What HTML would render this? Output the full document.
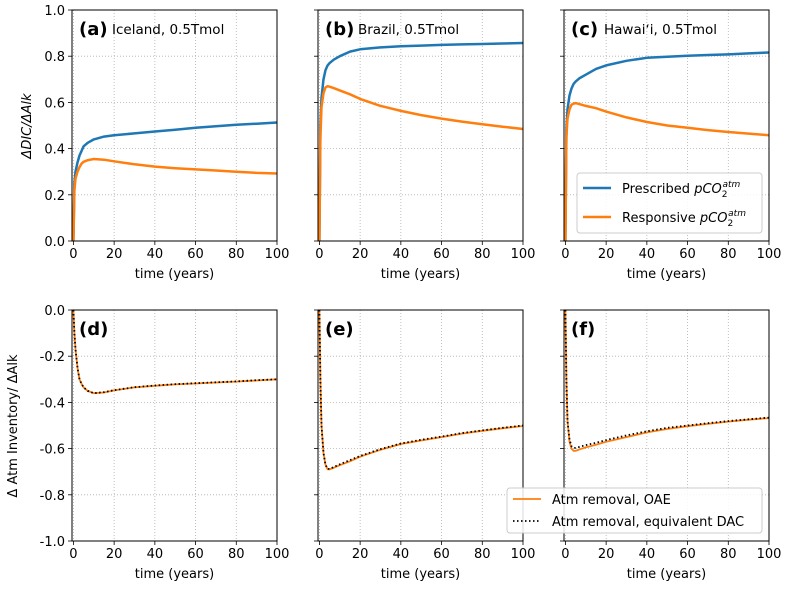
<!DOCTYPE html>
<html><head><meta charset="utf-8"><style>
html,body{margin:0;padding:0;background:#fff}
svg{display:block;font-family:"DejaVu Sans","Liberation Sans",sans-serif}
</style></head><body>
<svg id="fig" width="789" height="591" viewBox="0 0 789 591"></svg>
<script>
const times=[0,0.5,1,2,3,4,5,7,10,15,20,30,40,50,60,70,80,90,100];
const prescribedA=[0,0.25,0.3,0.34,0.37,0.39,0.41,0.425,0.44,0.452,0.458,0.466,0.474,0.482,0.49,0.497,0.503,0.508,0.513];
const responsiveA=[0,0.22,0.27,0.30,0.32,0.335,0.343,0.35,0.355,0.352,0.345,0.332,0.322,0.315,0.31,0.305,0.300,0.295,0.292];
const prescribedB=[0,0.5,0.62,0.7,0.74,0.76,0.77,0.785,0.8,0.82,0.83,0.838,0.843,0.846,0.849,0.851,0.853,0.855,0.857];
const responsiveB=[0,0.45,0.58,0.64,0.665,0.67,0.668,0.662,0.652,0.635,0.615,0.585,0.563,0.545,0.53,0.517,0.505,0.495,0.485];
const prescribedC=[0,0.48,0.57,0.63,0.66,0.68,0.69,0.705,0.72,0.745,0.76,0.78,0.793,0.798,0.802,0.805,0.808,0.812,0.816];
const responsiveC=[0,0.45,0.53,0.57,0.59,0.595,0.597,0.592,0.585,0.575,0.56,0.535,0.515,0.5,0.49,0.48,0.472,0.465,0.458];
const oaeD=[0,-0.1,-0.17,-0.25,-0.3,-0.32,-0.335,-0.35,-0.36,-0.357,-0.348,-0.335,-0.328,-0.322,-0.318,-0.314,-0.31,-0.305,-0.30];
const dacD=[0,-0.1,-0.17,-0.25,-0.3,-0.32,-0.335,-0.35,-0.36,-0.356,-0.347,-0.334,-0.327,-0.321,-0.317,-0.313,-0.309,-0.304,-0.30];
const oaeE=[0,-0.3,-0.5,-0.62,-0.67,-0.69,-0.69,-0.683,-0.672,-0.655,-0.635,-0.605,-0.58,-0.565,-0.55,-0.535,-0.523,-0.512,-0.502];
const dacE=[0,-0.3,-0.5,-0.62,-0.67,-0.688,-0.688,-0.68,-0.668,-0.65,-0.632,-0.602,-0.578,-0.562,-0.548,-0.533,-0.521,-0.51,-0.5];
const oaeF=[0,-0.3,-0.48,-0.57,-0.6,-0.61,-0.61,-0.603,-0.595,-0.583,-0.57,-0.55,-0.53,-0.515,-0.503,-0.493,-0.483,-0.475,-0.468];
const dacF=[0,-0.3,-0.48,-0.56,-0.59,-0.597,-0.597,-0.592,-0.585,-0.575,-0.563,-0.543,-0.525,-0.51,-0.5,-0.49,-0.481,-0.473,-0.466];
const xTicks=[0,20,40,60,80,100];
const yTicksTop=[0,0.2,0.4,0.6,0.8,1.0];
const yTicksBot=[-1.0,-0.8,-0.6,-0.4,-0.2,0.0];

const NS="http://www.w3.org/2000/svg";
const svg=document.getElementById('fig');
function mk(tag,attrs,parent){const e=document.createElementNS(NS,tag);for(const k in attrs)e.setAttribute(k,attrs[k]);(parent||svg).appendChild(e);return e;}
const cols=[72,318,564],W=205,rows=[{top:10,bot:241,lo:0,hi:1,ticks:yTicksTop},{top:310,bot:541,lo:-1,hi:0,ticks:yTicksBot}];
const panels=[
 {r:0,c:0,lab:"(a)",sub:"Iceland, 0.5Tmol",s:[prescribedA,responsiveA]},
 {r:0,c:1,lab:"(b)",sub:"Brazil, 0.5Tmol",s:[prescribedB,responsiveB]},
 {r:0,c:2,lab:"(c)",sub:"Hawaiʻi, 0.5Tmol",s:[prescribedC,responsiveC]},
 {r:1,c:0,lab:"(d)",sub:"",s:[oaeD,dacD]},
 {r:1,c:1,lab:"(e)",sub:"",s:[oaeE,dacE]},
 {r:1,c:2,lab:"(f)",sub:"",s:[oaeF,dacF]}];
panels.forEach(p=>{
 const R=rows[p.r],L=cols[p.c];
 const g=mk('g',{});
 
 
 const xs=v=>L+(v+0.7)/100.7*W, ys=v=>R.bot-(v-R.lo)/(R.hi-R.lo)*(R.bot-R.top);
 xTicks.forEach(t=>{const x=xs(t);
  const gl=mk('line',{x1:x,x2:x,y1:R.top,y2:R.bot,stroke:'#b0b0b0','stroke-width':0.8,'stroke-dasharray':'1,2'},g);
  
  mk('line',{x1:x,x2:x,y1:R.bot,y2:R.bot+4,stroke:'#000','stroke-width':0.8},g);
  const tx=mk('text',{x:x,y:R.bot+17,'text-anchor':'middle','font-size':13},g);tx.textContent=t;
  });
 R.ticks.forEach(t=>{const y=ys(t);
  const gl=mk('line',{x1:L,x2:L+W,y1:y,y2:y,stroke:'#b0b0b0','stroke-width':0.8,'stroke-dasharray':'1,2'},g);
  
  mk('line',{x1:L-4,x2:L,y1:y,y2:y,stroke:'#000','stroke-width':0.8},g);
  if(p.c===0){const tx=mk('text',{x:L-7,y:y+5,'text-anchor':'end','font-size':13},g);tx.textContent=t.toFixed(1);
   }});
 const xl=mk('text',{x:L+W/2,y:R.bot+37,'text-anchor':'middle','font-size':13},g);xl.textContent='time (years)';
 
 const styles=p.r===0?[{stroke:'#1f77b4','stroke-width':2.5},{stroke:'#ff7f0e','stroke-width':2.5}]:[{stroke:'#ff7f0e','stroke-width':1.8},{stroke:'#000','stroke-width':1.8,'stroke-dasharray':'1.5,2.5'}];
 p.s.forEach((arr,i)=>{const d=arr.map((v,j)=>(j?'L':'M')+xs(times[j]).toFixed(1)+','+ys(v).toFixed(1)).join('');
  const pa=mk('path',Object.assign({d:d,fill:'none','stroke-linejoin':'round'},styles[i]),g);
  
  });
 const fr=mk('rect',{x:L,y:R.top,width:W,height:R.bot-R.top,fill:'none',stroke:'#000','stroke-width':1},g);
 
 const lb=mk('text',{x:L+7,y:R.top+25,'font-size':18,'font-weight':'bold'},g);lb.textContent=p.lab;
 
 if(p.sub){const sb=mk('text',{x:L+40,y:R.top+24,'font-size':13.5},g);sb.textContent=p.sub;
  }
});
// y titles
const yt1=mk('text',{x:0,y:0,'font-size':13,'text-anchor':'middle','font-style':'italic',transform:'translate(31,126) rotate(-90)'});
yt1.textContent='ΔDIC/ΔAlk';

const yt2=mk('text',{x:0,y:0,'font-size':13,'text-anchor':'middle',transform:'translate(17,426) rotate(-90)'});
yt2.textContent='Δ Atm Inventory/ ΔAlk';

// legends
function legend(x,y,w,h,entries,name){const g=mk('g',{});
 
 mk('rect',{x:x,y:y,width:w,height:h,rx:3,fill:'#fff','fill-opacity':0.85,stroke:'#ccc','stroke-width':1},g);
 entries.forEach((e,i)=>{const cy=y+e.dy;
  mk('line',Object.assign({x1:x+6,x2:x+34,y1:cy,y2:cy},e.st),g);
  const t=mk('text',{x:x+45,y:cy+5,'font-size':13},g);t.innerHTML=e.html;
  });}
legend(577,173,185,60,[
 {dy:15,st:{stroke:'#1f77b4','stroke-width':2.5},html:'Prescribed <tspan font-style="italic">pCO</tspan><tspan font-size="9" dy="4">2</tspan><tspan font-size="9" font-style="italic" dx="-5" dy="-10">atm</tspan>'},
 {dy:44,st:{stroke:'#ff7f0e','stroke-width':2.5},html:'Responsive <tspan font-style="italic">pCO</tspan><tspan font-size="9" dy="4">2</tspan><tspan font-size="9" font-style="italic" dx="-5" dy="-10">atm</tspan>'}],'legend-top');
legend(507,488,255,45,[
 {dy:11,st:{stroke:'#ff7f0e','stroke-width':1.8},html:'Atm removal, OAE'},
 {dy:33,st:{stroke:'#000','stroke-width':1.8,'stroke-dasharray':'1.5,2.5'},html:'Atm removal, equivalent DAC'}],'legend-bottom');
</script>
</body></html>
